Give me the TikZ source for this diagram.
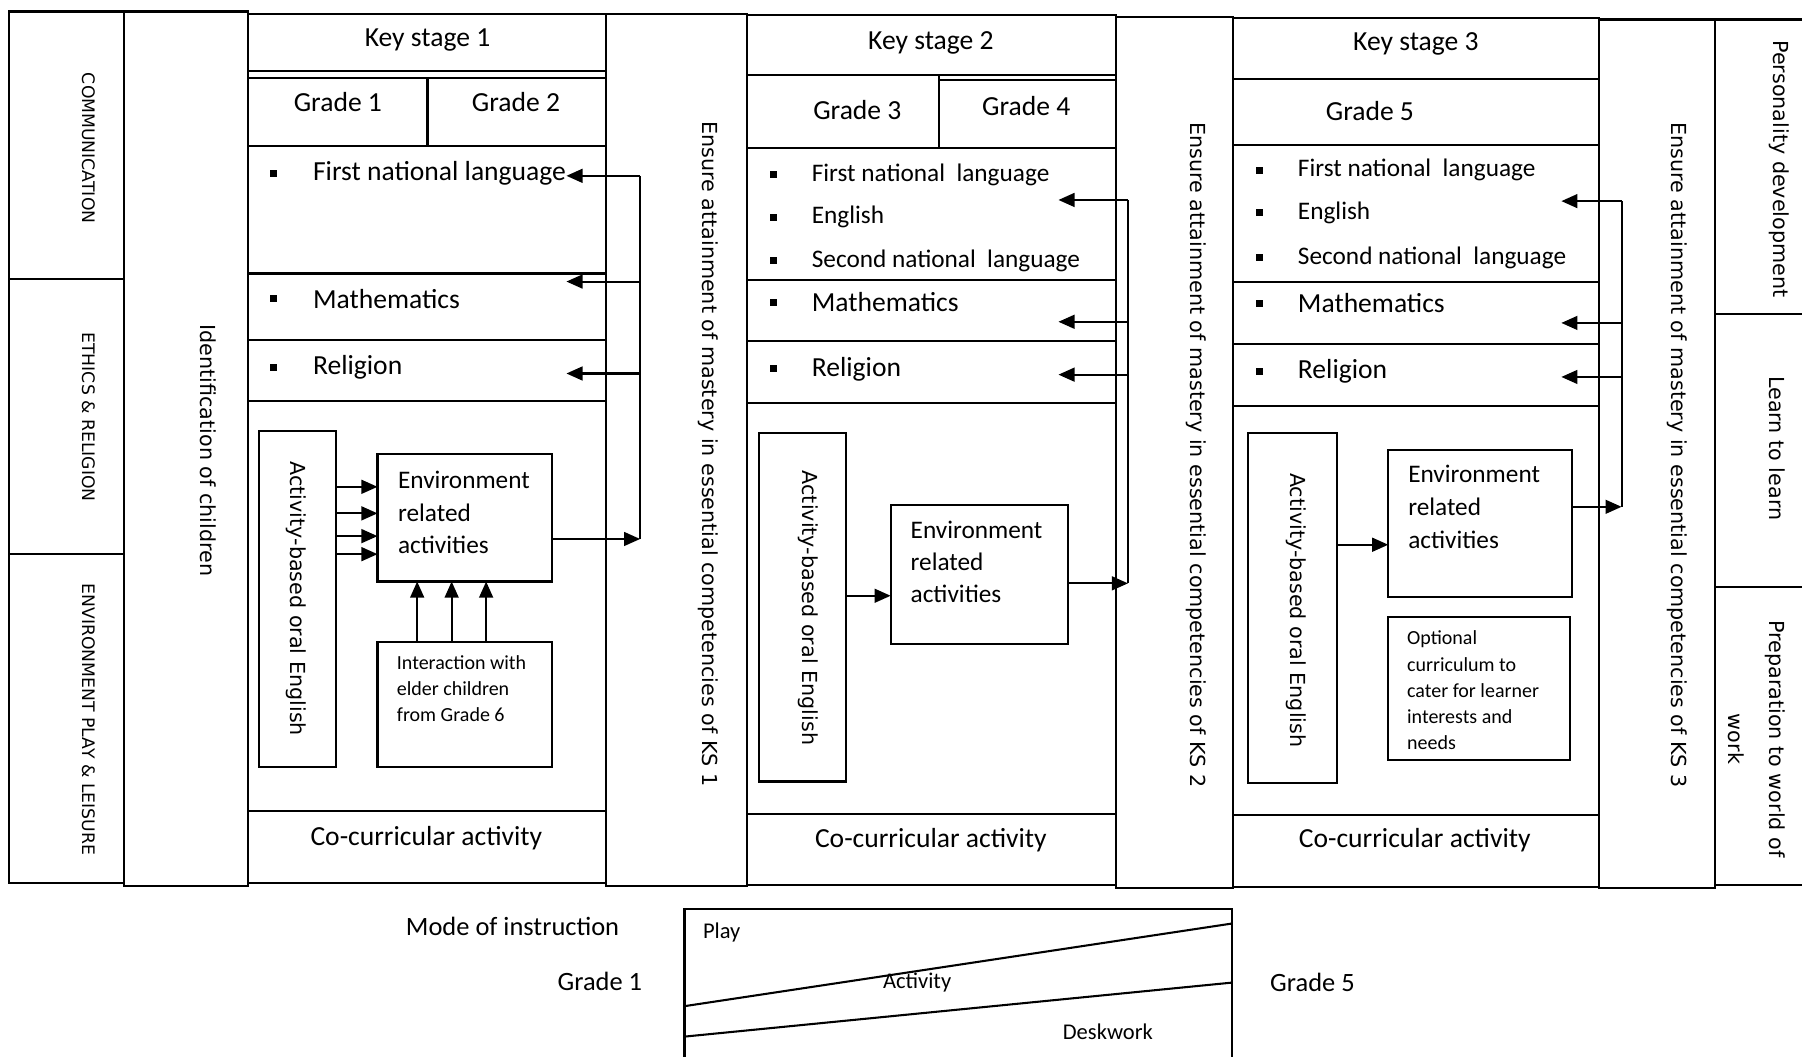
\documentclass[tikz,border=0pt]{standalone}
\usepackage{fontspec}
\setmainfont{Carlito}
\newfontfamily\vfont{DejaVu Sans}
\usetikzlibrary{arrows.meta,fit}

\tikzset{
  frame/.style={draw, line width=0.9pt, inner sep=0pt, outer sep=0pt},
  conn/.style={line width=0.9pt},
  arr/.style={conn, -{Triangle[length=7pt,width=6pt]}},
  head/.style={inner sep=0pt, font=\fontsize{12}{14}\selectfont},
  subj/.style={anchor=west, inner sep=0pt, font=\fontsize{12}{14}\selectfont},
  lang/.style={anchor=west, inner sep=0pt, font=\fontsize{11}{13}\selectfont},
  envtxt/.style={anchor=west, inner sep=0pt, font=\fontsize{11}{13}\selectfont},
  smalltxt/.style={anchor=west, inner sep=0pt, font=\fontsize{8.7}{10}\selectfont},
  vl/.style={rotate=-90, inner sep=0pt, font=\vfont\fontsize{9}{11}\selectfont},
  areatxt/.style={rotate=-90, inner sep=0pt, font=\vfont\fontsize{7.5}{9}\selectfont},
  bul/.style={fill, inner sep=0pt, minimum size=3pt},
  modetxt/.style={inner sep=0pt, font=\fontsize{11.5}{13}\selectfont},
  bandtxt/.style={inner sep=0pt, font=\fontsize{9.8}{11}\selectfont},
}
% a framed rectangle given by two corners
\newcommand\cellbox[5]{\node[frame, fit={(#2,#3) (#4,#5)}] (#1) {};}

\begin{document}
\begin{tikzpicture}[x=0.5pt,y=-0.5pt]
\useasboundingbox (0,0) rectangle (1568,919);

% ---------- learning areas on the left ----------
\cellbox{comm}{8}{10}{108}{243}
\cellbox{ethics}{8}{243}{108}{482}
\cellbox{envpl}{8}{482}{108}{768}
\node[areatxt] (commt) at (77,129) {COMMUNICATION};
\node[areatxt] (ethicst) at (77,363) {ETHICS \& RELIGION};
\node[areatxt] (envplt) at (77,626) {ENVIRONMENT PLAY \& LEISURE};

\cellbox{ident}{108}{10}{216}{771}
\node[vl] (identt) at (181,392) {Identification of children};

% ---------- key stage 1 ----------
\cellbox{ksA}{216}{12}{527}{62}
\node[head] (ksAt) at (372,35) {Key stage 1};
\cellbox{gA1}{216}{68}{372}{127}
\cellbox{gA2}{372}{68}{527}{127}
\node[head] (gA1t) at (294,89) {Grade 1};
\node[head] (gA2t) at (449,89) {Grade 2};
\cellbox{langA}{216}{127}{527}{238}
\cellbox{mathA}{216}{238}{527}{296}
\cellbox{relA}{216}{296}{527}{349}
\cellbox{areaA}{216}{349}{527}{706}
\cellbox{coA}{216}{706}{527}{768}
\node[head] (coAt) at (371,729) {Co-curricular activity};
\foreach \yy [count=\i] in {151,260,320} \node[bul] (bA\i) at (238,\yy) {};
\node[subj] (fnlA) at (272,151) {First national language};
\node[subj] (mtA) at (272,260) {Mathematics};
\node[subj] (rlA) at (272,320) {Religion};

\cellbox{abA}{225}{375}{292}{667}
\node[vl] (abAt) at (258,521) {Activity-based oral English};
\cellbox{envA}{328.5}{395}{480.6}{506}
\foreach \t [count=\i] in {Environment,related,activities}
  \node[envtxt] (envAt\i) at (346,390+28*\i) {\t};
\cellbox{intA}{328.5}{558.5}{480}{667}
\foreach \t [count=\i] in {Interaction with,elder children,from Grade 6}
  \node[smalltxt] (intAt\i) at (345,554.5+22.5*\i) {\t};
\foreach \yy in {423.6,446.7,466.5,482.2}
  \draw[arr] (abA.east |- 0,\yy) -- (envA.west |- 0,\yy);
\foreach \xx in {363,393,423}
  \draw[arr] (intA.north -| \xx,0) -- (envA.south -| \xx,0);

\coordinate (tA1) at (557,153);
\coordinate (tA2) at (557,469);
\coordinate (mA) at (557,245);
\coordinate (rA) at (557,325);
\draw[conn] (tA1) -- (tA2);
\draw[arr] (envA.east |- tA2) -- (tA2);
\draw[arr] (tA1) -- (tA1 -| fnlA.east);
\draw[arr] (mA) -- (mA -| fnlA.east);
\draw[arr] (rA) -- (rA -| fnlA.east);

\cellbox{ensA}{527}{12}{650}{771}
\node[vl] (ensAt) at (616,395) {Ensure attainment of mastery in essential competencies of KS 1};

% ---------- key stage 2 ----------
\cellbox{ksB}{650}{13}{971}{65}
\node[head] (ksBt) at (810,37) {Key stage 2};
\cellbox{gB1}{650}{65}{817}{129}
\cellbox{gB2}{817}{70}{971}{129}
\node[head] (gB1t) at (746,96) {Grade 3};
\node[head] (gB2t) at (893,92) {Grade 4};
\cellbox{langB}{650}{129}{971}{244}
\cellbox{mathB}{650}{244}{971}{297}
\cellbox{relB}{650}{297}{971}{351}
\cellbox{areaB}{650}{351}{971}{708}
\cellbox{coB}{650}{708}{971}{770}
\node[head] (coBt) at (810,731) {Co-curricular activity};
\foreach \yy [count=\i] in {152,189,227,263,321} \node[bul] (bB\i) at (673,\yy) {};
\node[lang] (fnlB) at (706,152) {First national~ language};
\node[lang] (enB) at (706,189) {English};
\node[lang] (snlB) at (706,227) {Second national~ language};
\node[subj] (mtB) at (706,263) {Mathematics};
\node[subj] (rlB) at (706,321) {Religion};

\cellbox{abB}{660.6}{377}{736}{680}
\node[vl] (abBt) at (703,529) {Activity-based oral English};
\cellbox{envB}{775}{439.5}{929}{560}
\foreach \t [count=\i] in {Environment,related,activities}
  \node[envtxt] (envBt\i) at (792,433+28*\i) {\t};
\draw[arr] (abB.east |- 0,518.4) -- (envB.west |- 0,518.4);

\coordinate (tB1) at (981.5,174);
\coordinate (tB2) at (981.5,507.6);
\coordinate (mB) at (981.5,280);
\coordinate (rB) at (981.5,326);
\coordinate (tipB) at (921,174);
\draw[conn] (tB1) -- (tB2);
\draw[arr] (envB.east |- tB2) -- (tB2);
\draw[arr] (tB1) -- (tipB);
\draw[arr] (mB) -- (mB -| tipB);
\draw[arr] (rB) -- (rB -| tipB);

\cellbox{ensB}{971}{15}{1073}{773}
\node[vl] (ensBt) at (1041,396) {Ensure attainment of mastery in essential competencies of KS 2};

% ---------- key stage 3 ----------
\cellbox{ksC}{1073}{16}{1391}{69}
\node[head] (ksCt) at (1232,38) {Key stage 3};
\cellbox{gC1}{1073}{69}{1391}{126}
\node[head] (gC1t) at (1192,97) {Grade 5};
\cellbox{langC}{1073}{126}{1391}{245}
\cellbox{mathC}{1073}{245}{1391}{299}
\cellbox{relC}{1073}{299}{1391}{353}
\cellbox{areaC}{1073}{353}{1391}{709}
\cellbox{coC}{1073}{709}{1391}{772}
\node[head] (coCt) at (1231,731) {Co-curricular activity};
\foreach \yy [count=\i] in {148,185,224,264,323} \node[bul] (bC\i) at (1096,\yy) {};
\node[lang] (fnlC) at (1129,148) {First national~ language};
\node[lang] (enC) at (1129,185) {English};
\node[lang] (snlC) at (1129,224) {Second national~ language};
\node[subj] (mtC) at (1129,264) {Mathematics};
\node[subj] (rlC) at (1129,323) {Religion};

\cellbox{abC}{1086}{377}{1163}{681}
\node[vl] (abCt) at (1128,531) {Activity-based oral English};
\cellbox{envC}{1208}{391.6}{1368}{519.5}
\foreach \t [count=\i] in {Environment,related,activities}
  \node[envtxt] (envCt\i) at (1225,384+28.5*\i) {\t};
\cellbox{optC}{1208}{537}{1366}{661}
\foreach \t [count=\i] in {Optional,curriculum to,cater for learner,interests and,needs}
  \node[smalltxt] (optCt\i) at (1224,533.5+22.5*\i) {\t};
\draw[arr] (abC.east |- 0,474) -- (envC.west |- 0,474);

\coordinate (tC1) at (1411,175);
\coordinate (tC2) at (1411,441);
\coordinate (mC) at (1411,281);
\coordinate (rC) at (1411,328);
\coordinate (tipC) at (1358.6,175);
\draw[conn] (tC1) -- (tC2);
\draw[arr] (envC.east |- tC2) -- (tC2);
\draw[arr] (tC1) -- (tipC);
\draw[arr] (mC) -- (mC -| tipC);
\draw[arr] (rC) -- (rC -| tipC);

\cellbox{ensC}{1391}{17}{1492}{773}
\node[vl] (ensCt) at (1459,396) {Ensure attainment of mastery in essential competencies of KS 3};

% ---------- aims on the right ----------
\cellbox{aimP}{1492}{17}{1590}{273}
\cellbox{aimL}{1492}{273}{1590}{511}
\cellbox{aimW}{1492}{511}{1590}{770}
\node[vl] (aimPt) at (1548,147) {Personality development};
\node[vl] (aimLt) at (1546,390) {Learn to learn};
\node[vl, align=center, font=\vfont\fontsize{9}{17.5}\selectfont] (aimWt) at (1528.5,643) {Preparation to world of\\work};

% ---------- mode of instruction ----------
\coordinate (mdBL) at (595.6,925);
\coordinate (mdTL) at (595.6,791);
\coordinate (mdTR) at (1072,791);
\coordinate (mdBR) at (1072,925);
\draw[conn] (mdBL) -- (mdTL) -- (mdTR) -- (mdBR);
\coordinate (upL) at (595.6,875.5);
\coordinate (upR) at (1072,803.6);
\coordinate (loL) at (595.6,902);
\coordinate (loR) at (1072,855);
\draw[conn] (upL) -- (upR);
\draw[conn] (loL) -- (loR);
\node[modetxt] (modet) at (446,806) {Mode of instruction};
\node[modetxt] (mdG1) at (522,854) {Grade 1};
\node[modetxt] (mdG5) at (1142,855) {Grade 5};
\node[bandtxt] (playt) at (628,811) {Play};
\node[bandtxt] (actt) at (798,855) {Activity};
\node[bandtxt] (deskt) at (964,898) {Deskwork};
\end{tikzpicture}
\end{document}
